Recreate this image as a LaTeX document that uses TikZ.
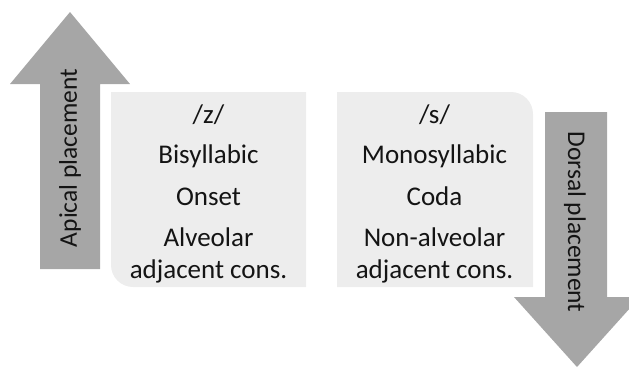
\documentclass[tikz,border=0pt]{standalone}
\usepackage{fontspec}
\setmainfont{Carlito}
\begin{document}
\begin{tikzpicture}[x=1pt,y=-1pt,
  arrowshape/.style={fill=arrowgray,draw=none},
  boxshape/.style={fill=boxgray,draw=none},
  lbl/.style={font=\fontsize{27}{30}\selectfont,text=txt,inner sep=0pt,anchor=base},
  arrlbl/.style={font=\fontsize{25.5}{28}\selectfont,text=txt,inner sep=0pt}]
\definecolor{arrowgray}{HTML}{A6A6A6}
\definecolor{boxgray}{HTML}{EDEDED}
\definecolor{txt}{HTML}{141414}
\useasboundingbox (0,0) rectangle (629,368);
% left arrow (up)
\draw[arrowshape] (40,269) -- (40,84) -- (10,84) -- (70,12) -- (130,84) -- (100,84) -- (100,269) -- cycle;
\node[arrlbl,rotate=90] (apical) at (70,158) {Apical placement};
% right arrow (down)
\draw[arrowshape] (545,112) -- (545,297) -- (514,297) -- (577,367) -- (640,297) -- (607,297) -- (607,112) -- cycle;
\node[arrlbl,rotate=-90] (dorsal) at (575,222) {Dorsal placement};
% left box
\draw[boxshape] (111,92) -- (306,92) -- (306,287) -- (133,287) arc[start angle=90,end angle=180,radius=22] -- cycle;
% right box
\draw[boxshape] (337,92) -- (511,92) arc[start angle=270,end angle=360,radius=22] -- (533,287) -- (337,287) -- cycle;
% left texts
\node[lbl] (z) at (208.5,123) {/z/};
\node[lbl] (bisyl) at (208.5,163) {Bisyllabic};
\node[lbl] (onset) at (208.5,205) {Onset};
\node[lbl] (alv) at (208.5,246) {Alveolar};
\node[lbl] (adjL) at (208.5,278) {adjacent cons.};
% right texts
\node[lbl] (s) at (434.5,123) {/s/};
\node[lbl] (mono) at (434.5,163) {Monosyllabic};
\node[lbl] (coda) at (434.5,205) {Coda};
\node[lbl] (nonalv) at (434.5,246) {Non-alveolar};
\node[lbl] (adjR) at (434.5,278) {adjacent cons.};
\end{tikzpicture}
\end{document}
